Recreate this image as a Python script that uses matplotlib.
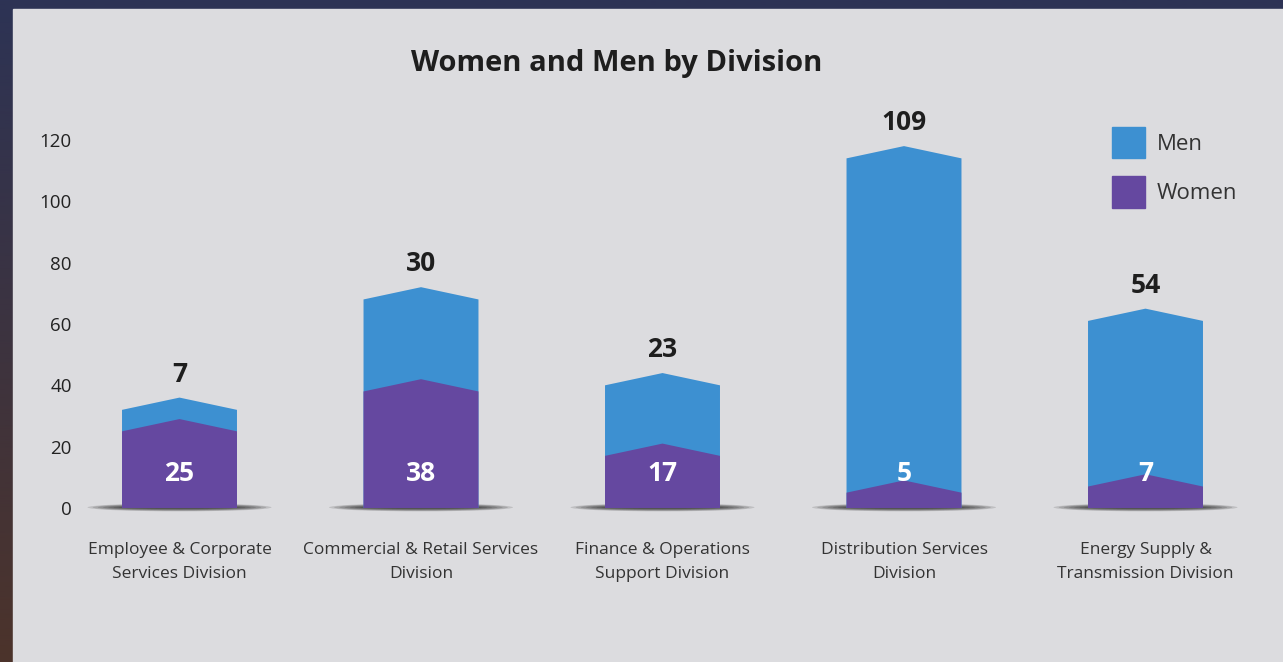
import numpy as np
import matplotlib
matplotlib.use('Agg')
import matplotlib.pyplot as plt
from matplotlib.patches import Polygon, Ellipse, Rectangle, Patch

# Datos
divisiones = ['Employee & Corporate\nServices Division',
              'Commercial & Retail Services\nDivision',
              'Finance & Operations\nSupport Division',
              'Distribution Services\nDivision',
              'Energy Supply &\nTransmission Division']
mujeres = [25, 38, 17, 5, 7]
hombres = [7, 30, 23, 109, 54]
ticks_y = [0, 20, 40, 60, 80, 100, 120]

color_hombres = '#3d90d1'
color_mujeres = '#6548a0'
fondo_panel = '#dcdcdf'

plt.rcParams['font.family'] = ['Open Sans', 'DejaVu Sans']

fig = plt.figure(figsize=(12.83, 6.62), dpi=100)

# Marco oscuro con degradado (azul arriba, marron abajo)
bg = fig.add_axes([0, 0, 1, 1])
grad = np.linspace(0, 1, 256)[:, None]
top = np.array([0x2d, 0x33, 0x55]) / 255
bot = np.array([0x4c, 0x33, 0x2b]) / 255
img = top[None, None, :] * (1 - grad[:, :, None]) + bot[None, None, :] * grad[:, :, None]
bg.imshow(img, aspect='auto', extent=[0, 1, 0, 1], origin='upper')
bg.add_patch(Rectangle((13 / 1283, 0), 1, 1 - 9 / 662, color=fondo_panel, zorder=2))
bg.set_xlim(0, 1)
bg.set_ylim(0, 1)
bg.axis('off')

# Ejes principales
x0, x1 = 80, 1250
ax = fig.add_axes([x0 / 1283, (662 - 508) / 662, (x1 - x0) / 1283, 130 * 3.067 / 662])
ax.set_facecolor('none')
paso = 241.5
ax.set_xlim(-(179.5 - x0) / paso, 4 + (x1 - 1145.5) / paso)
ax.set_ylim(0, 130)

ancho = 0.476
pico = 4.0
for i, (m, h) in enumerate(zip(mujeres, hombres)):
    l, r = i - ancho / 2, i + ancho / 2
    total = m + h
    # sombra en la base
    for k in range(8):
        ax.add_patch(Ellipse((i, 0.2), ancho * (1.6 - k * 0.09), 2.6 - k * 0.28,
                             color='#111111', alpha=0.14, lw=0, zorder=1, clip_on=False))
    ax.add_patch(Polygon([(l, 0), (r, 0), (r, total), (i, total + pico), (l, total)],
                         closed=True, color=color_hombres, lw=0, zorder=2))
    ax.add_patch(Polygon([(l, 0), (r, 0), (r, m), (i, m + pico), (l, m)],
                         closed=True, color=color_mujeres, lw=0, zorder=3))
    ax.text(i, total + pico + 3.2, str(h), ha='center', va='bottom', fontsize=19,
            fontweight='bold', color='#1e1e1e', zorder=4)
    ax.text(i, 11.2, str(m), ha='center', va='center', fontsize=19,
            fontweight='bold', color='white', zorder=4)

ax.set_xticks(range(len(divisiones)))
ax.set_xticklabels(divisiones, fontsize=12.5, color='#333333', linespacing=1.65)
ax.set_yticks(ticks_y)
ax.set_yticklabels([str(t) for t in ticks_y], fontsize=13.5, color='#222222')
ax.tick_params(axis='both', length=0)
ax.tick_params(axis='x', pad=24.5)
ax.tick_params(axis='y', pad=6)
for s in ax.spines.values():
    s.set_visible(False)

fig.text(617 / 1283, 1 - 64 / 662, 'Women and Men by Division', ha='center', va='center',
         fontsize=21, fontweight='bold', color='#1e1e1e')

handles = [Patch(color=color_hombres, label='Men'), Patch(color=color_mujeres, label='Women')]
fig.legend(handles=handles, loc='upper left', bbox_to_anchor=(1112 / 1283, 1 - 127 / 662),
           frameon=False, fontsize=16, handlelength=1.48, handleheight=1.8,
           labelspacing=0.8, handletextpad=0.55, labelcolor='#333333',
           borderpad=0, borderaxespad=0)

fig.savefig('out.png', dpi=100)
